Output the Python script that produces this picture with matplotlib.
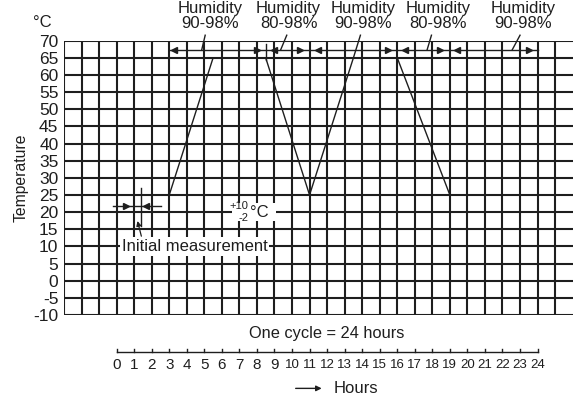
import matplotlib
matplotlib.use("Agg")
import matplotlib.pyplot as plt
from matplotlib.patches import Rectangle

plt.rcParams["font.family"] = ["Liberation Sans", "DejaVu Sans"]

# temperature profile of one cycle (hours, deg C)
prof_hours = [3, 5.5, 8.5, 11, 13.5, 16, 19]
prof_temp = [25, 65, 65, 25, 65, 65, 25]

# humidity bands along the top
hum_text = ["90-98%", "80-98%", "90-98%", "80-98%", "90-98%"]
hum_label_x = [5.35, 9.8, 14.05, 18.35, 23.2]
hum_leader_x0 = [4.85, 9.35, 13.5, 17.7, 22.55]
hum_leader_x1 = [5.05, 9.7, 13.9, 17.95, 23.0]
hum_start, hum_end = 3, 24
arrow_right = [7.98, 10.46, 15.45, 18.44, 23.5]
arrow_left = [3.3, 8.99, 11.46, 16.44, 19.38]

temp_ticks = list(range(-10, 71, 5))
hour_ticks = list(range(0, 25))

ink = "#1e1e1e"

fig = plt.figure(figsize=(5.73, 4.05), dpi=100)
ax = fig.add_axes([64 / 573, 90 / 405, 509 / 573, 274.3 / 405])
ax.set_xlim(-3, 26.02)
ax.set_ylim(-10, 70)

# square grid: one column per hour, one row per 5 deg C
for h in range(-3, 26):
    ax.axvline(h, color=ink, lw=1.5, zorder=1)
for t in temp_ticks:
    ax.axhline(t, color=ink, lw=1.5, zorder=1)

for side in ["top", "right", "bottom", "left"]:
    ax.spines[side].set_visible(False)
ax.set_xticks([])
ax.set_yticks(temp_ticks)
ax.set_yticklabels([str(t) for t in temp_ticks], fontsize=12.5, color=ink)
ax.tick_params(axis="y", length=0, pad=4)

ax.text(-4.25, 75.3, "°C", fontsize=12, ha="center", va="center",
        color=ink, clip_on=False)
ax.text(-5.45, 30, "Temperature", fontsize=11.3, rotation=90, ha="center",
        va="center", color=ink, clip_on=False)

# temperature profile
ax.plot(prof_hours, prof_temp, color=ink, lw=1.0, zorder=3)

# humidity dimension line
y_arr = 67.3
ax.plot([hum_start, hum_end], [y_arr, y_arr], color=ink, lw=1.0, zorder=3)
ax.plot([8.5, 8.5], [64.5, 69], color=ink, lw=1.0, zorder=3)
ax.plot(arrow_right, [y_arr] * len(arrow_right), ">", color=ink, ms=4,
        zorder=4, linestyle="none")
ax.plot(arrow_left, [y_arr] * len(arrow_left), "<", color=ink, ms=4,
        zorder=4, linestyle="none")
for x0, x1, lx, txt in zip(hum_leader_x0, hum_leader_x1, hum_label_x, hum_text):
    ax.plot([x0, x1], [y_arr if x0 != 13.5 else 65, 71.6], color=ink,
            lw=1.0, clip_on=False, zorder=3)
    ax.text(lx, 77.3, "Humidity\n" + txt, fontsize=12, ha="center",
            va="center", linespacing=1.0, color=ink, clip_on=False)

# initial measurement marker
ax.plot([-0.2, 2.55], [21.7, 21.7], color=ink, lw=1.0, zorder=3)
ax.plot([1.4, 1.4], [16, 27], color=ink, lw=1.0, zorder=3)
ax.plot([0.55], [21.7], ">", color=ink, ms=4, zorder=4)
ax.plot([1.65], [21.7], "<", color=ink, ms=4, zorder=4)
ax.annotate("", xy=(1.15, 18.2), xytext=(1.45, 12.2),
            arrowprops=dict(arrowstyle="-|>", color=ink, lw=0.9,
                            mutation_scale=7), zorder=4)
ax.text(0.3, 10, "Initial measurement", fontsize=12, ha="left",
        va="center", color=ink, zorder=5,
        bbox=dict(boxstyle="square,pad=0.1", fc="white", ec="none"))

# tolerance note
ax.add_patch(Rectangle((6.55, 17.4), 2.55, 5.4, fc="white", ec="none",
                       zorder=4))
ax.text(7.52, 21.8, "+10", fontsize=8, ha="right", va="center",
        color=ink, zorder=5)
ax.text(7.5, 18.4, "-2", fontsize=8, ha="right", va="center",
        color=ink, zorder=5)
ax.text(7.58, 19.9, "°C", fontsize=12, ha="left", va="center",
        color=ink, zorder=5)

# hour ruler below the grid
ax.text(12, -15.3, "One cycle = 24 hours", fontsize=11.8, ha="center",
        va="center", color=ink, clip_on=False)
ax.plot([0, 24], [-20.8, -20.8], color=ink, lw=1.0, clip_on=False)
for h in hour_ticks:
    ax.plot([h, h], [-20.8, -19.9], color=ink, lw=1.0, clip_on=False)
    ax.text(h, -24.6, str(h), fontsize=11 if h < 10 else 9.5, ha="center",
            va="center", color=ink, clip_on=False)
ax.annotate("", xy=(11.85, -31.4), xytext=(10.05, -31.4),
            arrowprops=dict(arrowstyle="-|>", color=ink, lw=1.0,
                            mutation_scale=8), annotation_clip=False)
ax.text(12.35, -31.4, "Hours", fontsize=12, ha="left", va="center",
        color=ink, clip_on=False)

fig.savefig("out.png", dpi=100)
